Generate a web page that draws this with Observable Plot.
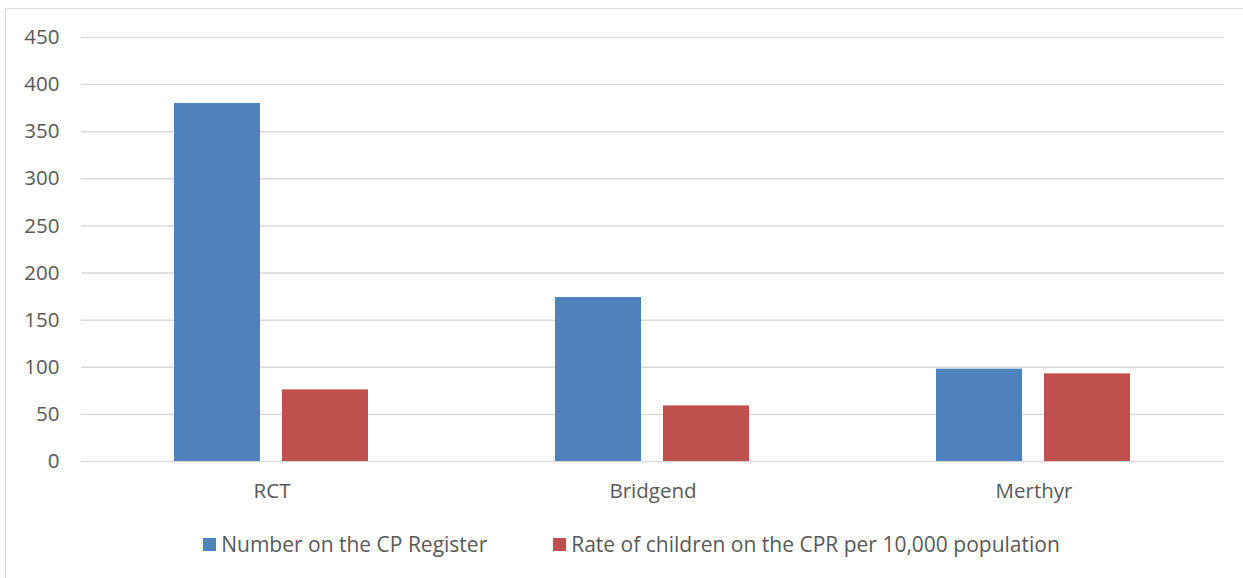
<!DOCTYPE html>
<html><head><meta charset="utf-8">
<script src="https://cdn.jsdelivr.net/npm/d3@7"></script>
<script src="https://cdn.jsdelivr.net/npm/@observablehq/plot@0.6"></script>
<style>
body{margin:0;background:#fff;font-family:"Open Sans",sans-serif;overflow:hidden;}
#frame{position:absolute;left:5px;top:8px;width:1260px;height:600px;border:1.5px solid #d9d9d9;box-sizing:border-box;}
#chart{position:absolute;left:0;top:0;}
#legend{position:absolute;left:10px;top:530px;width:1243px;display:flex;justify-content:center;font-size:21px;color:#595959;}
.item{display:flex;align-items:center;}
.sw{width:13px;height:13px;display:inline-block;margin-right:5px;}
</style></head>
<body>
<div id="frame"></div>
<div id="chart"></div>
<div id="legend"></div>
<script>
const regions = ["RCT", "Bridgend", "Merthyr"];
const seriesNames = ["Number on the CP Register", "Rate of children on the CPR per 10,000 population"];
const numberOnRegister = [380, 174, 98];
const ratePer10k = [76, 59, 93];
const colors = ["#4f81bd", "#c0504d"];
const yTicks = [0, 50, 100, 150, 200, 250, 300, 350, 400, 450];

const data = [];
regions.forEach((r, i) => {
  data.push({region: r, series: seriesNames[0], value: numberOnRegister[i]});
  data.push({region: r, series: seriesNames[1], value: ratePer10k[i]});
});

const chart = Plot.plot({
  width: 1243,
  height: 510,
  marginLeft: 80,
  marginRight: 19,
  marginTop: 37,
  marginBottom: 49,
  style: {fontFamily: "Open Sans, sans-serif", fontSize: "20.5px", color: "#595959", background: "transparent"},
  fx: {domain: regions, padding: 0, label: null, axis: "bottom", tickSize: 0, tickPadding: 22},
  x: {domain: seriesNames, paddingInner: 0.2, paddingOuter: 0.86, axis: null},
  y: {domain: [0, 450], ticks: yTicks, label: null, tickSize: 0, tickPadding: 22},
  color: {domain: seriesNames, range: colors},
  marks: [
    Plot.gridY(yTicks, {stroke: "#d9d9d9", strokeOpacity: 1, strokeWidth: 1.5}),
    Plot.barY(data, {fx: "region", x: "series", y: "value", fill: "series"})
  ]
});
document.getElementById("chart").append(chart);

const legend = document.getElementById("legend");
seriesNames.forEach((s, i) => {
  const it = document.createElement("div");
  it.className = "item";
  it.style.marginRight = i === 0 ? "66px" : "0";
  const sw = document.createElement("span");
  sw.className = "sw";
  sw.style.background = colors[i];
  it.append(sw, document.createTextNode(s));
  legend.append(it);
});
</script>
</body></html>
